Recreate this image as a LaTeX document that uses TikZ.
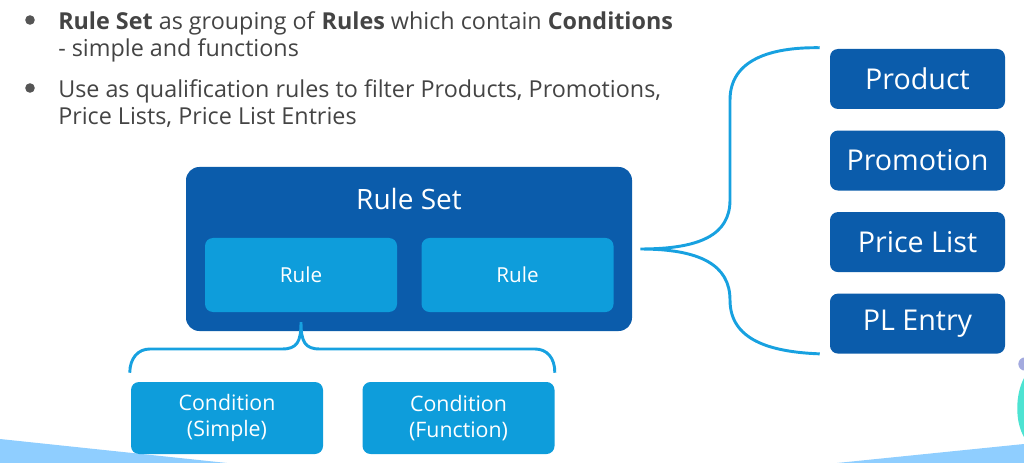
\documentclass[tikz,border=0pt]{standalone}
\usepackage{fontspec}
\setmainfont{Open Sans}
\usetikzlibrary{positioning, calc}

\definecolor{setblue}{HTML}{0B5CAB}
\definecolor{ruleblue}{HTML}{0E9DDB}
\definecolor{bracecol}{HTML}{17A1E0}
\definecolor{bgblue}{HTML}{8FCEFF}
\definecolor{textgray}{HTML}{444444}
\definecolor{dotgray}{HTML}{555555}
\definecolor{tealdeco}{HTML}{4DE3D2}
\definecolor{purpledeco}{HTML}{A3AADF}

\begin{document}
\begin{tikzpicture}[
    x=0.75pt, y=-0.75pt, % one unit = one pixel of the slide
    setbox/.style={fill=setblue, rounded corners=10pt, minimum width=334.5pt, minimum height=123pt, inner sep=0pt},
    rulebox/.style={fill=ruleblue, rounded corners=6pt, minimum width=144pt, minimum height=55.5pt,
        text=white, font=\fontsize{15.5}{18}\selectfont},
    targetbox/.style={fill=setblue, rounded corners=6pt, minimum width=131.25pt, minimum height=45pt,
        text=white, font=\fontsize{21.5}{24}\selectfont},
    condbox/.style={fill=ruleblue, rounded corners=6pt, minimum width=144pt, minimum height=54pt,
        text=white, align=center, font=\fontsize{16}{20}\selectfont},
    settitle/.style={text=white, font=\fontsize{21}{24}\selectfont},
    bullettext/.style={text=textgray, align=left, inner sep=0pt, font=\fontsize{17.5}{20.25}\selectfont},
    brace/.style={draw=bracecol, line width=2.2pt}
]
    \useasboundingbox (0,0) rectangle (1024,463);

    % Background decoration
    \fill[bgblue] (0,439) -- (227,463) -- (0,463) -- cycle;
    \fill[bgblue] (837,463) -- (1024,444) -- (1024,463) -- cycle;
    \fill[tealdeco] (1024,378) .. controls (1015,395) and (1015,422) .. (1024,437) -- cycle;
    \fill[purpledeco] (1025,364) circle [radius=5pt];

    % Bullets
    \fill[dotgray] (30,20) circle [radius=3.6pt];
    \fill[dotgray] (30,88) circle [radius=3.6pt];
    \node[bullettext, anchor=north west] (bulletA) at (58,11)
        {\textbf{Rule Set} as grouping of \textbf{Rules} which contain \textbf{Conditions}\\- simple and functions};
    \node[bullettext, anchor=north west] (bulletB) at (58,79)
        {Use as qualification rules to filter Products, Promotions,\\Price Lists, Price List Entries};

    % Rule Set with its rules
    \node[setbox] (ruleset) at (409,249) {};
    \node[settitle] (title) at ($(ruleset.north)+(0,32)$) {Rule Set};
    \node[rulebox] (ruleL) at (301,275) {Rule};
    \node[rulebox, right=18pt of ruleL] (ruleR) {Rule};

    % Targets
    \node[targetbox] (product) at (917.5,79) {Product};
    \node[targetbox, below=15.75pt of product] (promotion) {Promotion};
    \node[targetbox, below=15.75pt of promotion] (pricelist) {Price List};
    \node[targetbox, below=15.75pt of pricelist] (plentry) {PL Entry};

    % Conditions
    \node[condbox] (condsimple) at (227,418) {Condition\\(Simple)};
    \node[condbox, right=29.25pt of condsimple] (condfunc) {Condition\\(Function)};

    % Brace from the rule set to the targets
    \coordinate (settip) at ($(ruleset.east)+(8,0)$);
    \coordinate (toptip) at ($(product.north west)+(-10,-1)$);
    \coordinate (bottip) at ($(plentry.south west)+(-10,0)$);
    \draw[brace] (toptip) .. controls (770,47) and (730,60) .. (730,100) -- (730,200)
        .. controls (730,235) and (700,249) .. (settip)
        .. controls (700,249) and (730,265) .. (730,300)
        .. controls (730,340) and (770,352) .. (bottip);

    % Brace from a rule to its conditions
    \coordinate (ruletip) at ($(ruleL.south)+(0,10)$);
    \coordinate (condL) at ($(condsimple.north west)+(-1,-9)$);
    \coordinate (condR) at ($(condfunc.north east)+(0,-9)$);
    \draw[brace] (condL) .. controls (130,358) and (138,349) .. (150,349) -- (282,349)
        .. controls (297,349) and (301,342) .. (ruletip)
        .. controls (301,342) and (305,349) .. (320,349) -- (535,349)
        .. controls (547,349) and (555,358) .. (condR);
\end{tikzpicture}
\end{document}
